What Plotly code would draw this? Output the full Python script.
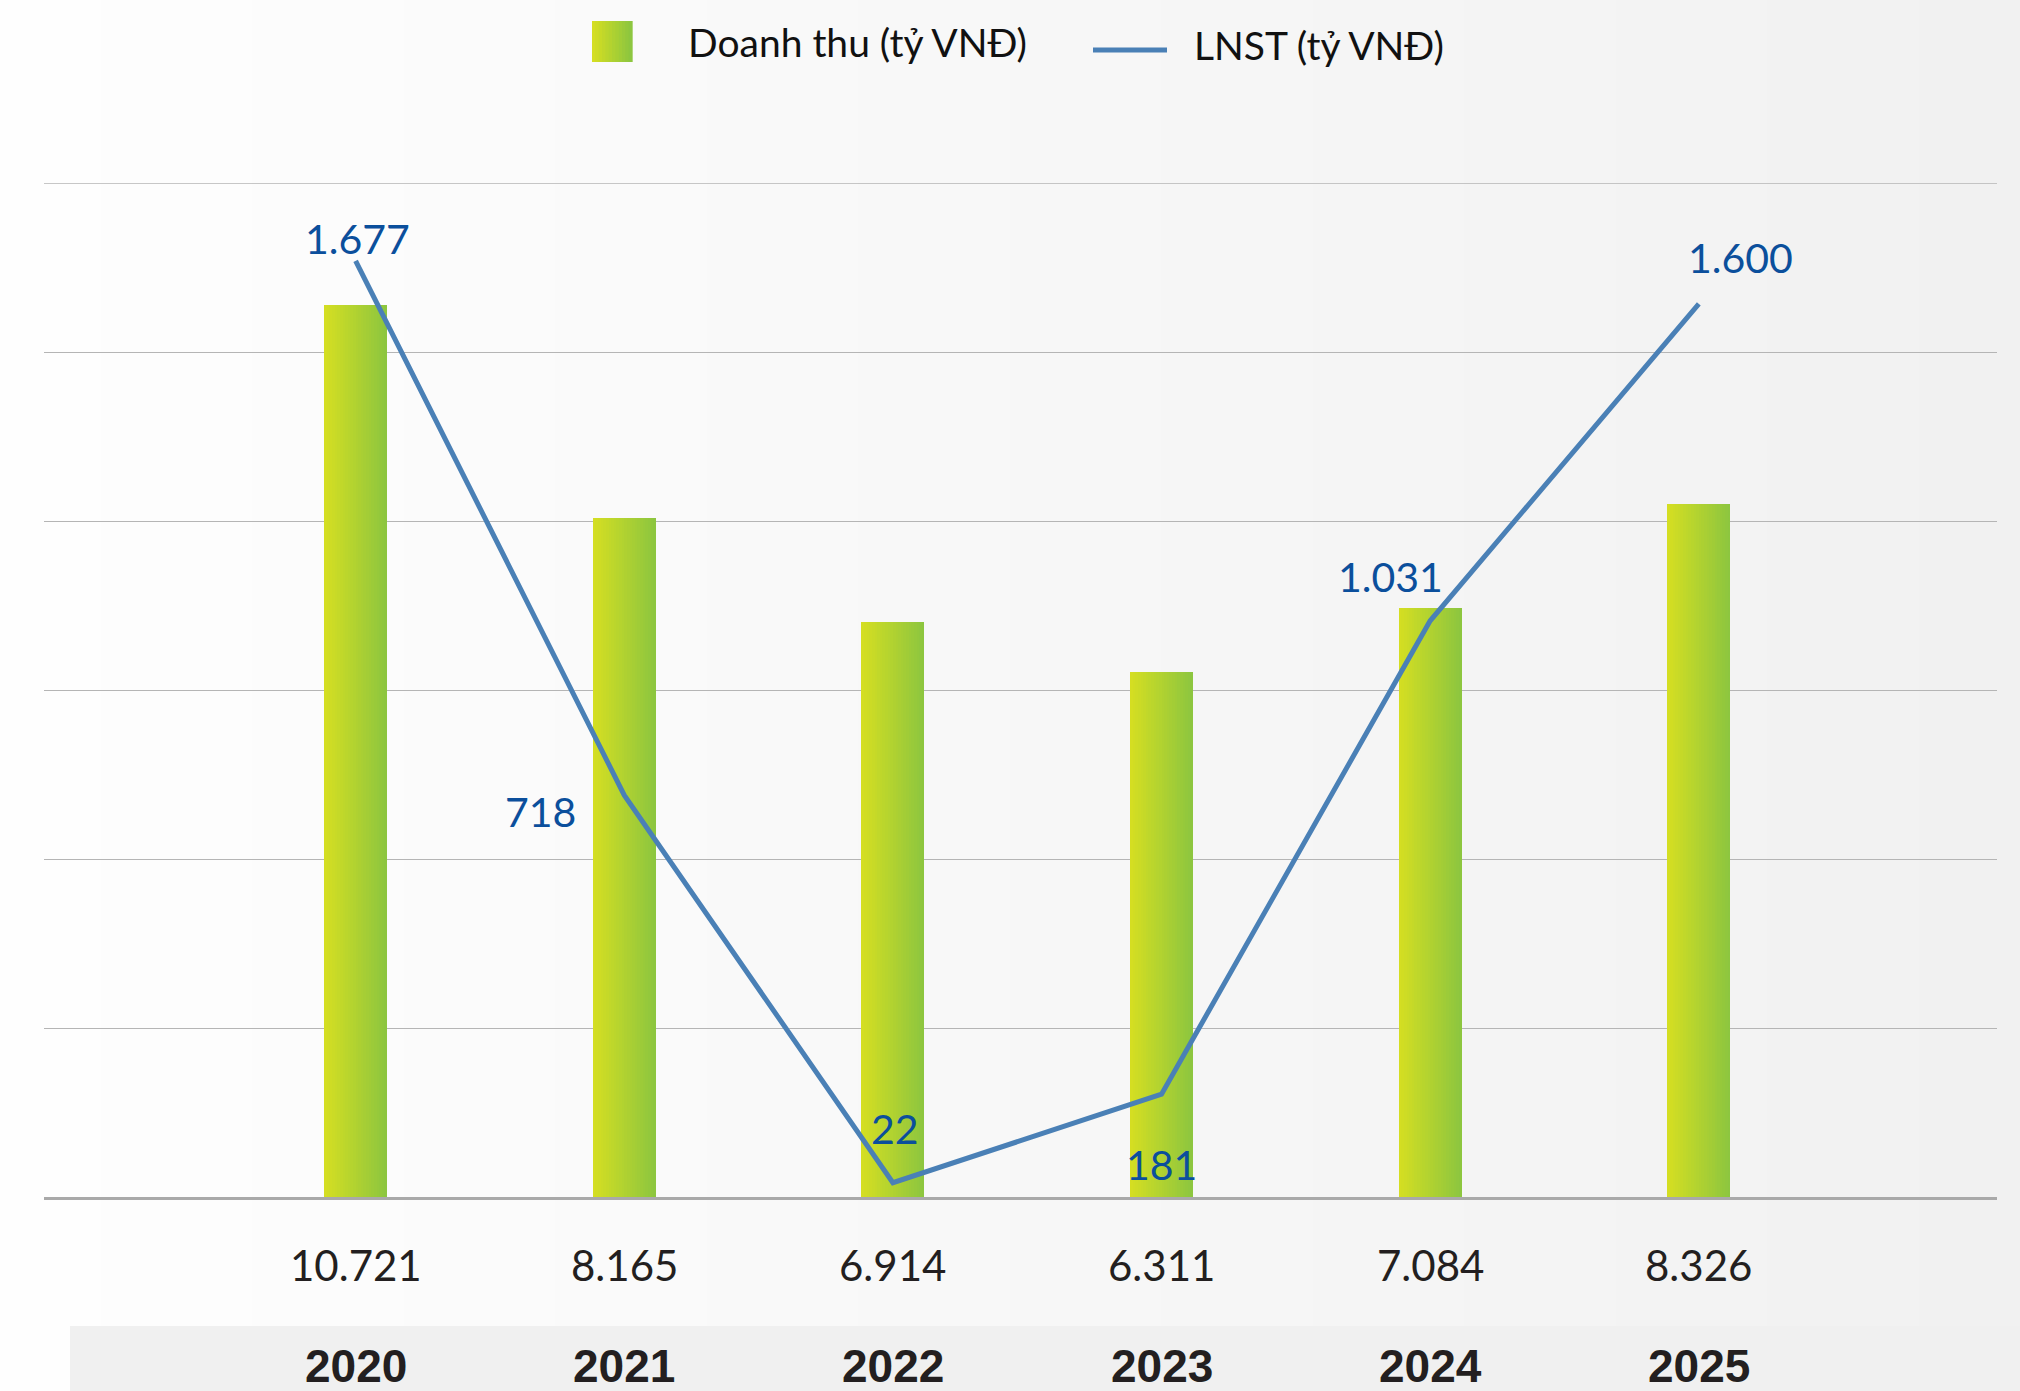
import plotly.graph_objects as go

# ---- data ----
years = ["2020", "2021", "2022", "2023", "2024", "2025"]
revenue = [10721, 8165, 6914, 6311, 7084, 8326]
revenue_labels = ["10.721", "8.165", "6.914", "6.311", "7.084", "8.326"]
profit = [1677, 718, 22, 181, 1031, 1600]
profit_labels = ["1.677", "718", "22", "181", "1.031", "1.600"]
legend_names = ["Doanh thu (tỷ VNĐ)", "LNST (tỷ VNĐ)"]

# ---- layout geometry ----
W, H = 2020, 1391
ML, MR, MT, MB = 44, 23, 183, 194
PW, PH = W - ML - MR, H - MT - MB


def px(x):
    return (x - ML) / PW


def py(y):
    return (H - MB - y) / PH


def lerp_color(c1, c2, t):
    return "rgb(%d,%d,%d)" % tuple(round(a + (b - a) * t) for a, b in zip(c1, c2))


YELLOW = (212, 222, 34)
GREEN = (141, 198, 63)
LINE = "#4a80b6"
LABEL = "#0b4f9c"
DARK = "#231f20"
GRID = "#b5b5b5"

idx = list(range(len(years)))
fig = go.Figure()

# gradient bars made of thin slices
N = 24
bw = 0.2345
for k in range(N):
    t = k / (N - 1)
    fig.add_trace(go.Bar(
        x=idx, y=revenue, width=bw / N * (1.15 if k < N - 1 else 1.0),
        offset=-bw / 2 + k * bw / N,
        marker=dict(color=lerp_color(YELLOW, GREEN, t), line=dict(width=0)),
        showlegend=False, hoverinfo="skip" if k else "y", yaxis="y",
    ))

fig.add_trace(go.Scatter(
    x=idx, y=profit, yaxis="y2", mode="lines",
    line=dict(color=LINE, width=5), showlegend=False,
))

YMAX = 12190

shapes = []
# background gradient
S = 80
x_left, x_right = px(0), px(W)
for k in range(S):
    t = k / (S - 1)
    shapes.append(dict(
        type="rect", xref="paper", yref="paper",
        x0=x_left + (x_right - x_left) * k / S,
        x1=x_left + (x_right - x_left) * (k + 1.3) / S,
        y0=py(H), y1=py(0), line=dict(width=0),
        fillcolor=lerp_color((254, 254, 254), (241, 241, 241), t), layer="below",
    ))
# bottom band for years
shapes.append(dict(type="rect", xref="paper", yref="paper",
                   x0=px(70), x1=px(W), y0=py(H), y1=py(1326),
                   line=dict(width=0), fillcolor="#f0f0f0", layer="below"))
# top gridline (at the axis maximum)
shapes.append(dict(type="line", xref="paper", yref="y", x0=0, x1=1, y0=YMAX, y1=YMAX,
                   line=dict(color=GRID, width=1.3), layer="below"))
# legend gradient square
LS = 12
for k in range(LS):
    t = k / (LS - 1)
    shapes.append(dict(type="rect", xref="paper", yref="paper",
                       x0=px(592 + 40 * k / LS), x1=px(592 + 40 * (k + 1.2) / LS),
                       y0=py(62), y1=py(21), line=dict(width=0),
                       fillcolor=lerp_color(YELLOW, GREEN, t)))
# legend line
shapes.append(dict(type="line", xref="paper", yref="paper",
                   x0=px(1093), x1=px(1167), y0=py(50), y1=py(50),
                   line=dict(color=LINE, width=5)))

annotations = []
annotations.append(dict(text=legend_names[0], xref="paper", yref="paper",
                        x=px(686), y=py(42), xanchor="left", yanchor="middle",
                        showarrow=False, font=dict(family="Lato", size=39, color="#111111")))
annotations.append(dict(text=legend_names[1], xref="paper", yref="paper",
                        x=px(1192), y=py(45), xanchor="left", yanchor="middle",
                        showarrow=False, font=dict(family="Lato", size=39, color="#111111")))

shifts = [(2, 22), (-84, -16), (2, 54), (0, -70), (-40, 44), (42, 46)]
for i, (lab, v) in enumerate(zip(profit_labels, profit)):
    annotations.append(dict(text=lab, x=i, y=v, xref="x", yref="y2",
                            xshift=shifts[i][0], yshift=shifts[i][1],
                            showarrow=False, xanchor="center", yanchor="middle",
                            font=dict(family="Lato", size=41, color=LABEL)))

for i, lab in enumerate(revenue_labels):
    annotations.append(dict(text=lab, x=i, y=py(1265), xref="x", yref="paper",
                            showarrow=False, xanchor="center", yanchor="middle",
                            font=dict(family="Lato", size=42, color=DARK)))
for i, lab in enumerate(years):
    annotations.append(dict(text="<b>%s</b>" % lab, x=i, y=py(1366), xref="x", yref="paper",
                            showarrow=False, xanchor="center", yanchor="middle",
                            font=dict(family="Liberation Sans", size=46, color=DARK)))

fig.update_layout(
    width=W, height=H,
    margin=dict(l=ML, r=MR, t=MT, b=MB, pad=0),
    paper_bgcolor="white", plot_bgcolor="rgba(0,0,0,0)",
    barmode="overlay", bargap=0,
    showlegend=False,
    xaxis=dict(range=[-1.16, 6.11], showticklabels=False, showgrid=False,
               zeroline=False, showline=True, linecolor="#a9a9a9", linewidth=3,
               ticks="", fixedrange=True),
    yaxis=dict(range=[0, YMAX], tick0=0, dtick=YMAX / 6, showticklabels=False,
               showgrid=True, gridcolor=GRID, gridwidth=1.3, zeroline=False,
               ticks=""),
    yaxis2=dict(range=[-3.6, 1817], overlaying="y", side="right", showticklabels=False,
                showgrid=False, zeroline=False, ticks=""),
    shapes=shapes, annotations=annotations,
)

fig.write_html("out.html", config={"displayModeBar": False},
               post_script="document.body.style.margin='0px';document.body.style.overflow='hidden';")
